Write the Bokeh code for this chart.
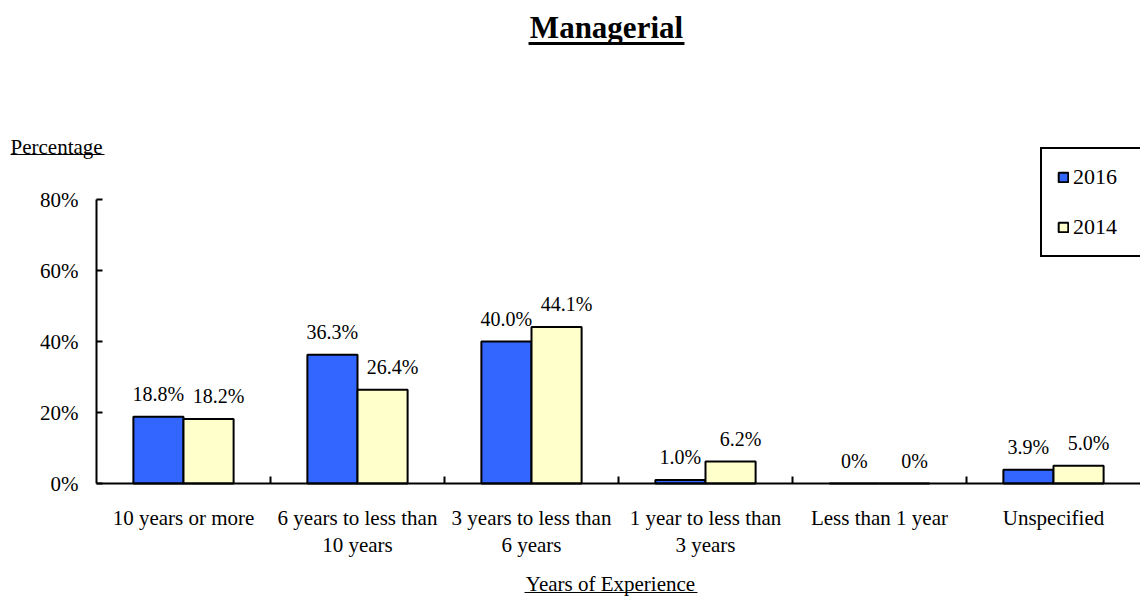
from bokeh.plotting import figure
from bokeh.models import (Range1d, LinearAxis, FixedTicker, NumeralTickFormatter, LabelSet,
                          Label, Arrow, ColumnDataSource, Legend, LegendItem)
from bokeh.transform import dodge
from bokeh.core.properties import value
from bokeh.embed import file_html
from bokeh.resources import INLINE

# ---------------- data ----------------
categories = ["10 years or more", "6 years to less than\n10 years",
              "3 years to less than\n6 years", "1 year to less than\n3 years",
              "Less than 1 year", "Unspecified"]
share_2016 = [18.8, 36.3, 40.0, 1.0, 0.0, 3.9]
share_2014 = [18.2, 26.4, 44.1, 6.2, 0.0, 5.0]
series_names = ["2016", "2014"]
y_ticks = [0, 20, 40, 60, 80]
title_text = "Managerial"
y_title = "Percentage"
x_title = "Years of Experience"

# ---------------- style ----------------
FONT_NAME = "Liberation Serif"
BLUE = "#3366FF"
YELLOW = "#FFFFCC"
BAR_W = 0.288

def fmt(v):
    return f"{v:.1f}%" if v else "0%"

n = len(categories)
centers = [i + 0.5 for i in range(n)]
src = ColumnDataSource(dict(
    x=centers,
    cat=categories,
    v16=[v / 100 for v in share_2016],
    v14=[v / 100 for v in share_2014],
    t16=[fmt(v) for v in share_2016],
    t14=[fmt(v) for v in share_2014],
))

# the frame covers the whole canvas; axes are pinned with fixed_location
p = figure(width=1140, height=597,
           x_range=Range1d(-0.5517, n), y_range=Range1d(-0.3211, 1.3606),
           output_backend="svg", toolbar_location=None,
           x_axis_location=None, y_axis_location=None,
           min_border=0, min_border_left=0, min_border_right=0,
           min_border_top=0, min_border_bottom=0, outline_line_color=None,
           background_fill_color="white", border_fill_color="white")
p.xgrid.visible = False
p.ygrid.visible = False

# y axis
yaxis = LinearAxis(ticker=FixedTicker(ticks=[t / 100 for t in y_ticks]),
                   formatter=NumeralTickFormatter(format="0%"),
                   bounds=(0, y_ticks[-1] / 100), fixed_location=0)
yaxis.axis_line_width = 2
yaxis.axis_line_color = "black"
yaxis.major_tick_line_width = 2
yaxis.major_tick_line_color = "black"
yaxis.major_tick_in = 6
yaxis.major_tick_out = 0
yaxis.minor_tick_line_color = None
yaxis.major_label_text_font = FONT_NAME
yaxis.major_label_text_font_size = "21px"
yaxis.major_label_text_color = "black"
yaxis.major_label_standoff = 18
p.add_layout(yaxis, "left")

# x axis: labels at category centres, minor ticks at category boundaries
xaxis = LinearAxis(ticker=FixedTicker(ticks=centers, minor_ticks=list(range(1, n))),
                   major_label_overrides={c: lab for c, lab in zip(centers, categories)},
                   bounds=(0, n), fixed_location=0)
xaxis.axis_line_width = 2
xaxis.axis_line_color = "black"
xaxis.major_tick_line_color = None
xaxis.minor_tick_line_width = 2
xaxis.minor_tick_line_color = "black"
xaxis.minor_tick_in = 7
xaxis.minor_tick_out = 0
xaxis.major_label_text_font = FONT_NAME
xaxis.major_label_text_font_size = "21px"
xaxis.major_label_text_color = "black"
xaxis.major_label_text_line_height = 1.15
xaxis.major_label_standoff = 16
p.add_layout(xaxis, "below")

# bars
r1 = p.vbar(x=dodge("x", -BAR_W / 2), top="v16", width=BAR_W,
            source=src, fill_color=BLUE, line_color="black", line_width=2)
r2 = p.vbar(x=dodge("x", BAR_W / 2), top="v14", width=BAR_W,
            source=src, fill_color=YELLOW, line_color="black", line_width=2)

# data labels
for xo, col, txt, xoff in [(-BAR_W / 2, "v16", "t16", 0), (BAR_W / 2, "v14", "t14", 10)]:
    p.add_layout(LabelSet(x=dodge("x", xo), y=col, text=txt, source=src,
                          text_align="center", text_baseline="middle",
                          x_offset=xoff, y_offset=23,
                          text_font=value(FONT_NAME), text_font_size="20px",
                          text_color="black"))

# legend
legend = Legend(items=[LegendItem(label=series_names[0], renderers=[r1]),
                       LegendItem(label=series_names[1], renderers=[r2])],
                location=(1040, 340), orientation="vertical",
                glyph_width=12, glyph_height=12, label_standoff=4,
                label_width=60, label_height=20, spacing=24, padding=15,
                label_text_font=FONT_NAME, label_text_font_size="22px",
                label_text_color="black", border_line_color="black",
                border_line_alpha=1.0, border_line_width=2,
                background_fill_color="white", background_fill_alpha=1, margin=0)
p.add_layout(legend)

# titles (text + underline)
p.add_layout(Label(x=2.931, y=1.2845, text=title_text,
                   text_font=FONT_NAME, text_font_style="bold", text_font_size="31px",
                   text_align="center", text_baseline="middle", text_color="black"))
p.add_layout(Arrow(end=None, x_start=2.483, y_start=1.2394, x_end=3.379, y_end=1.2394,
                   line_width=3, line_color="black"))

p.add_layout(Label(x=-0.494, y=0.949, text=y_title,
                   text_font=FONT_NAME, text_font_size="21px",
                   text_align="left", text_baseline="middle", text_color="black"))
p.add_layout(Arrow(end=None, x_start=-0.494, y_start=0.9268, x_end=0.046, y_end=0.9268,
                   line_width=1, line_color="black"))

p.add_layout(Label(x=2.954, y=-0.282, text=x_title,
                   text_font=FONT_NAME, text_font_size="21px",
                   text_align="center", text_baseline="middle", text_color="black"))
p.add_layout(Arrow(end=None, x_start=2.460, y_start=-0.307, x_end=3.454, y_end=-0.307,
                   line_width=1, line_color="black"))

open("out.html", "w").write(file_html(p, INLINE))
